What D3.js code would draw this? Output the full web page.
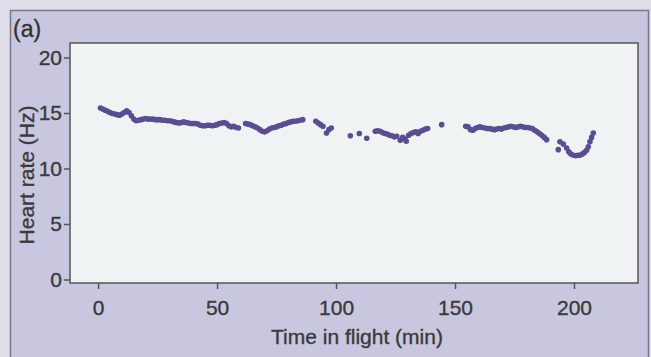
<!DOCTYPE html>
<html lang="en">
<head>
<meta charset="UTF-8">
<title>Heart rate in flight</title>
<script src="https://cdn.jsdelivr.net/npm/d3@7"></script>
<style>
  body { margin: 0; background: #dedde8; }
  svg { display: block; font-family: "Liberation Sans", Arial, sans-serif; }
  svg text { stroke: #3a3a3a; stroke-width: 0.35px; }
</style>
</head>
<body>
<div id="chart"></div>
<script>
// time in flight (min) and heart rate (Hz)
const times = [
  1, 2, 3, 4, 5, 6, 7, 8, 9, 10, 11, 12, 13, 14, 15, 16, 17, 18, 19, 20,
  21, 22, 23, 24, 25, 26, 27, 28, 29, 30, 31, 32, 33, 34, 35, 36, 37, 38, 39, 40,
  41, 42, 43, 44, 45, 46, 47, 48, 49, 50, 51, 52, 53, 54, 55, 56, 57, 58, 59,
  62, 63, 64, 65, 66, 67, 68, 69, 70, 71, 72, 73, 74, 75, 76, 77, 78, 79, 80,
  81, 82, 83, 84, 85, 86,
  91.5, 92.5, 93.5, 94.5, 96, 97, 98,
  106, 109.8, 112.9, 116.5, 117.5, 118.5, 119.5, 120.5, 121.5, 122.5, 123.5, 124.5,
  125.5, 127, 128, 129, 129.5, 130.5, 131.5, 132.5, 133.5, 134.5, 135.5, 136.5, 137.5, 138.5,
  144.4,
  154.5, 155.5, 156.5, 157.5, 158.5, 159.5, 160.5, 161.5, 162.5, 163.5, 164.5, 165.5,
  166.5, 167.5, 168.5, 169.5, 170.5, 171.5, 172.5, 173.5, 174.5, 175.5, 176.5, 177.5,
  178.5, 179.5, 180.5, 181.5, 182.5, 183.5, 184.5, 185.5, 186.5, 187.5, 188.5,
  193.4, 194.1, 195.5, 196.9, 197.8, 198.7, 199.7, 200.7, 201.6, 202.5, 203.5, 204.4,
  205.3, 206, 206.7, 207.4, 208.1
];
const heartRate = [
  15.45, 15.35, 15.25, 15.15, 15.05, 14.95, 14.9, 14.85, 14.8, 14.9, 15.05, 15.2, 15.05, 14.75, 14.45, 14.3, 14.35, 14.4, 14.45, 14.5,
  14.45, 14.45, 14.45, 14.4, 14.4, 14.4, 14.35, 14.35, 14.3, 14.3, 14.25, 14.2, 14.15, 14.1, 14.15, 14.2, 14.15, 14.1, 14.05, 14.05,
  14.05, 14.0, 13.9, 13.85, 13.85, 13.9, 13.9, 13.85, 13.9, 13.95, 14.05, 14.1, 14.15, 14.05, 13.85, 13.75, 13.8, 13.7, 13.65,
  14.05, 14.0, 13.95, 13.85, 13.75, 13.65, 13.5, 13.35, 13.3, 13.4, 13.55, 13.65, 13.7, 13.75, 13.85, 13.9, 14.0, 14.05, 14.15,
  14.2, 14.25, 14.25, 14.3, 14.35, 14.4,
  14.25, 14.1, 13.95, 13.8, 13.2, 13.5, 13.65,
  12.95, 13.15, 12.72, 13.35, 13.4, 13.35, 13.25, 13.15, 13.1, 13.0, 12.95, 12.85,
  12.9, 12.55, 12.8, 12.65, 12.45, 13.0, 13.15, 13.25, 13.3, 13.15, 13.35, 13.45, 13.55, 13.6,
  13.95,
  13.8, 13.75, 13.5, 13.45, 13.6, 13.7, 13.75, 13.7, 13.65, 13.6, 13.6, 13.55,
  13.5, 13.55, 13.6, 13.55, 13.65, 13.7, 13.75, 13.8, 13.75, 13.7, 13.75, 13.8,
  13.75, 13.7, 13.7, 13.65, 13.6, 13.45, 13.3, 13.15, 13.0, 12.8, 12.6,
  11.7, 12.4, 12.2, 11.85, 11.5, 11.3, 11.2, 11.15, 11.2, 11.2, 11.3, 11.45,
  11.65, 11.95, 12.4, 12.8, 13.2
];
const xTicks = [0, 50, 100, 150, 200];
const yTicks = [0, 5, 10, 15, 20];

const W = 651, H = 357;
const svg = d3.select("#chart").append("svg")
    .attr("width", W)
    .attr("height", H);

// outer panel
svg.append("rect")
    .attr("x", 10.5).attr("y", 10.5)
    .attr("width", 638).attr("height", 360)
    .attr("fill", "#c9c7df")
    .attr("stroke", "#77778a")
    .attr("stroke-width", 1.5);

svg.append("text")
    .attr("x", 13).attr("y", 37)
    .attr("font-size", 23)
    .attr("fill", "#2f2f33")
    .text("(a)");

// plot area
const plot = {left: 70, top: 43, right: 638, bottom: 283};

const x = d3.scaleLinear()
    .domain([-11.8, 226.9])
    .range([plot.left, plot.right]);
const y = d3.scaleLinear()
    .domain([0, 20])
    .range([279.5, 57.5]);

svg.append("rect")
    .attr("x", plot.left).attr("y", plot.top)
    .attr("width", plot.right - plot.left)
    .attr("height", plot.bottom - plot.top)
    .attr("fill", "#eff3f4")
    .attr("stroke", "#555")
    .attr("stroke-width", 1.5);

// axes
const xAxis = svg.append("g")
    .attr("transform", `translate(0,${plot.bottom})`)
    .call(d3.axisBottom(x).tickValues(xTicks).tickSize(6).tickPadding(11).tickSizeOuter(0));
const yAxis = svg.append("g")
    .attr("transform", `translate(${plot.left},0)`)
    .call(d3.axisLeft(y).tickValues(yTicks).tickSize(6).tickPadding(2).tickSizeOuter(0));

[xAxis, yAxis].forEach(g => {
  g.select(".domain").remove();
  g.selectAll(".tick line").attr("stroke", "#555").attr("stroke-width", 1.5);
  g.selectAll(".tick text")
      .attr("fill", "#3a3a3a")
      .attr("font-size", 21)
      .attr("font-family", "Liberation Sans, Arial, sans-serif");
});

svg.append("text")
    .attr("x", 357)
    .attr("y", 344)
    .attr("text-anchor", "middle")
    .attr("font-size", 21)
    .attr("fill", "#3a3a3a")
    .text("Time in flight (min)");

svg.append("text")
    .attr("transform", "translate(34,175) rotate(-90)")
    .attr("text-anchor", "middle")
    .attr("font-size", 21)
    .attr("fill", "#3a3a3a")
    .text("Heart rate (Hz)");

// points
svg.append("g")
  .selectAll("circle")
  .data(times.map((t, i) => [t, heartRate[i]]))
  .join("circle")
    .attr("cx", d => x(d[0]))
    .attr("cy", d => y(d[1]))
    .attr("r", 2.8)
    .attr("fill", "#5a4e90");
</script>
</body>
</html>
